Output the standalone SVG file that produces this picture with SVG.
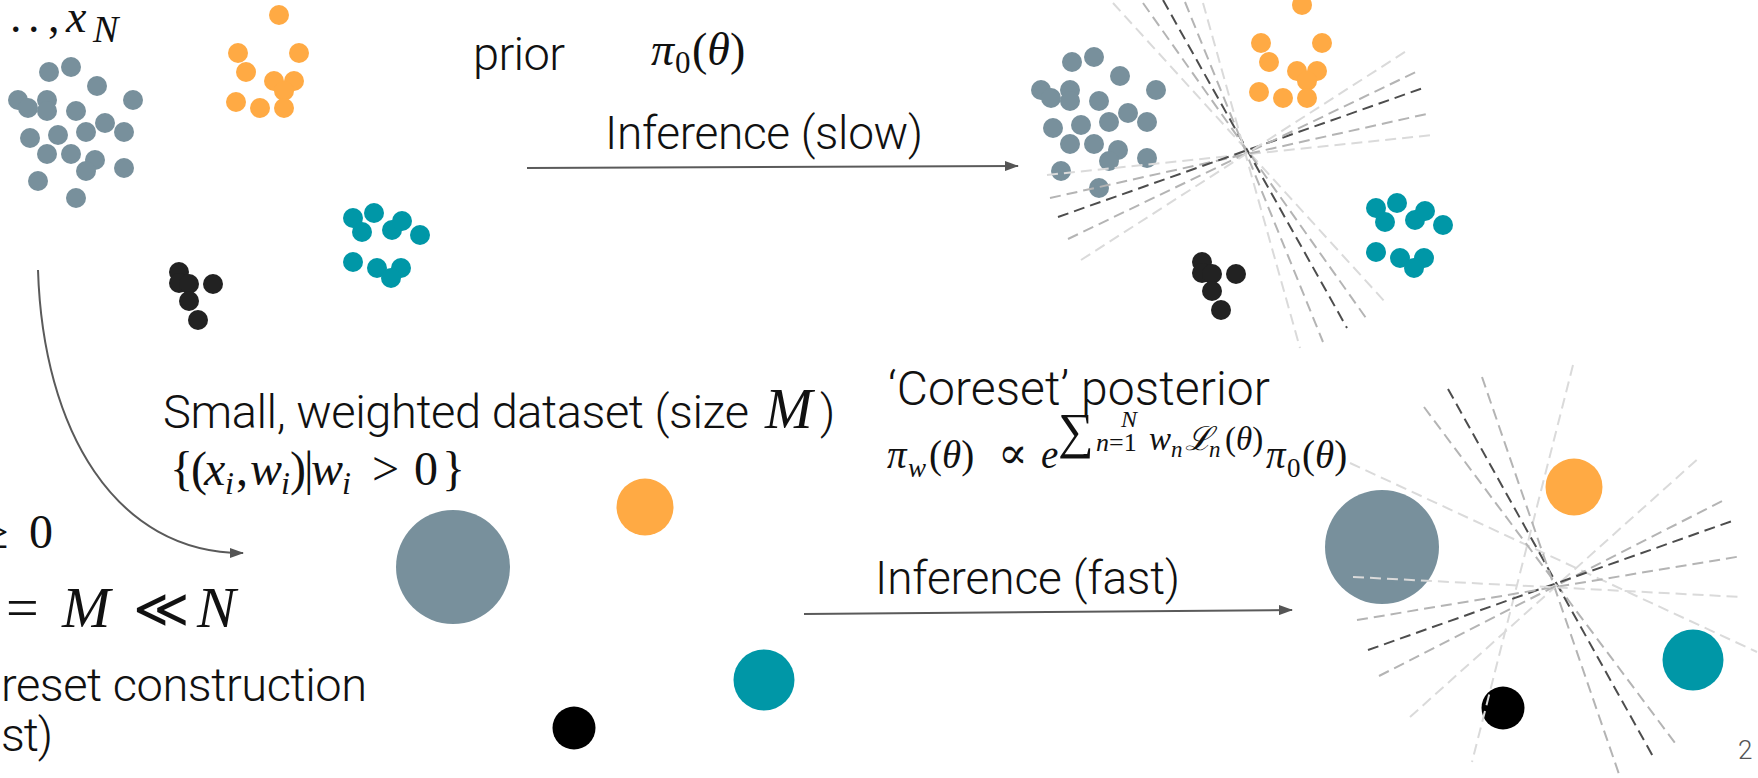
<svg xmlns="http://www.w3.org/2000/svg" xmlns:xlink="http://www.w3.org/1999/xlink" width="1758" height="778" viewBox="0 0 1758 778">
  <style>
    .sans { font-family: Roboto, "Liberation Sans", Arial, sans-serif; font-weight: 300; fill: #111; }
    .m { font-family: "Liberation Serif", "DejaVu Serif", serif; fill: #111; }
    .it { font-style: italic; }
    .g { fill: #78909c; }
    .o { fill: #ffaa44; }
    .t { fill: #0097a7; }
    .k { fill: #222; }
    .arrow { fill: none; stroke: #5a5a5a; stroke-width: 2; marker-end: url(#ah); }
    .d { fill: none; stroke-width: 2; stroke-dasharray: 11 6; }
    .l1 { stroke: #dadada; }
    .l2 { stroke: #b4b4b4; }
    .l3 { stroke: #4d4d4d; }
  </style>
  <defs>
    <marker id="ah" markerUnits="userSpaceOnUse" markerWidth="14" markerHeight="10" refX="13" refY="5" orient="auto">
      <path d="M0,0 L14,5 L0,10 z" fill="#555"/>
    </marker>
    <!-- full dataset: four clusters of points -->
    <g id="points">
      <g class="g">
        <circle cx="49" cy="72" r="10"/><circle cx="71" cy="67" r="10"/><circle cx="97" cy="86" r="10"/>
        <circle cx="18" cy="100" r="10"/><circle cx="28" cy="108" r="10"/><circle cx="47" cy="100" r="10"/>
        <circle cx="47" cy="111" r="10"/><circle cx="76" cy="111" r="10"/><circle cx="133" cy="100" r="10"/>
        <circle cx="105" cy="123" r="10"/><circle cx="30" cy="138" r="10"/><circle cx="58" cy="135" r="10"/>
        <circle cx="86" cy="132" r="10"/><circle cx="124" cy="132" r="10"/><circle cx="47" cy="154" r="10"/>
        <circle cx="71" cy="154" r="10"/><circle cx="95" cy="160" r="10"/><circle cx="86" cy="171" r="10"/>
        <circle cx="124" cy="168" r="10"/><circle cx="38" cy="181" r="10"/><circle cx="76" cy="198" r="10"/>
      </g>
      <g class="o">
        <circle cx="279" cy="15" r="10"/><circle cx="238" cy="53" r="10"/><circle cx="299" cy="53" r="10"/>
        <circle cx="246" cy="72" r="10"/><circle cx="274" cy="81" r="10"/><circle cx="294" cy="81" r="10"/>
        <circle cx="284" cy="91" r="10"/><circle cx="236" cy="102" r="10"/><circle cx="260" cy="108" r="10"/>
        <circle cx="284" cy="108" r="10"/>
      </g>
      <g class="t">
        <circle cx="353" cy="218" r="10"/><circle cx="374" cy="213" r="10"/><circle cx="362" cy="232" r="10"/>
        <circle cx="392" cy="230" r="10"/><circle cx="402" cy="221" r="10"/><circle cx="420" cy="235" r="10"/>
        <circle cx="353" cy="262" r="10"/><circle cx="377" cy="268" r="10"/><circle cx="401" cy="268" r="10"/>
        <circle cx="391" cy="278" r="10"/>
      </g>
      <g class="k">
        <circle cx="179" cy="272" r="10"/><circle cx="179" cy="283" r="10"/><circle cx="189" cy="284" r="10"/>
        <circle cx="213" cy="284" r="10"/><circle cx="189" cy="301" r="10"/><circle cx="198" cy="320" r="10"/>
      </g>
    </g>
    <!-- weighted coreset: one point per cluster, area by weight -->
    <g id="coreset">
      <circle class="g" cx="453" cy="567" r="57"/>
      <circle class="o" cx="645" cy="507" r="28.5"/>
      <circle class="t" cx="764" cy="680" r="30.5"/>
      <circle cx="574" cy="728" r="21.5" fill="#000"/>
    </g>
  </defs>

  <!-- full data -->
  <g id="data-full">
    <use xlink:href="#points"/>
    <text class="m" y="32" font-size="46"><tspan x="10">.</tspan><tspan x="28">.</tspan><tspan x="48">,</tspan><tspan class="it" x="66">x</tspan><tspan class="it" x="93" y="42" font-size="38">N</tspan></text>
  </g>

  <!-- prior -->
  <g id="prior">
    <text class="sans" x="473" y="70" font-size="47" textLength="92">prior</text>
    <text class="m" y="65" font-size="46"><tspan class="it" x="651">π</tspan><tspan x="675" y="73" font-size="31">0</tspan><tspan x="692" y="65">(</tspan><tspan class="it">θ</tspan><tspan>)</tspan></text>
  </g>

  <!-- exact posterior over full data -->
  <g id="posterior-full">
    <use xlink:href="#points" transform="translate(1023,-10)"/>
    <line class="d l1" x1="1113" y1="3" x2="1386" y2="303"/>
    <line class="d l2" x1="1143" y1="3" x2="1366" y2="318"/>
    <line class="d l3" x1="1163" y1="0" x2="1347" y2="328"/>
    <line class="d l2" x1="1185" y1="2" x2="1323" y2="342"/>
    <line class="d l1" x1="1203" y1="3" x2="1300" y2="348"/>
    <line class="d l1" x1="1047" y1="175" x2="1433" y2="135"/>
    <line class="d l2" x1="1050" y1="198" x2="1431" y2="113"/>
    <line class="d l3" x1="1058" y1="217" x2="1426" y2="87"/>
    <line class="d l2" x1="1068" y1="239" x2="1418" y2="71"/>
    <line class="d l1" x1="1081" y1="260" x2="1408" y2="50"/>
  </g>

  <!-- coreset -->
  <g id="coreset-data">
    <use xlink:href="#coreset"/>
    <text class="sans" x="163" y="428" font-size="47" textLength="586">Small, weighted dataset (size</text>
    <text class="m it" x="765" y="428" font-size="57">M</text>
    <text class="sans" x="820" y="428" font-size="47">)</text>
    <text class="m" y="485" font-size="48"><tspan x="170">{</tspan><tspan x="191">(</tspan><tspan class="it" x="204">x</tspan><tspan class="it" x="225" y="494" font-size="32">i</tspan><tspan x="236" y="485">,</tspan><tspan class="it" x="250">w</tspan><tspan class="it" x="281" y="494" font-size="32">i</tspan><tspan x="290" y="485">)</tspan><tspan x="304">|</tspan><tspan class="it" x="311">w</tspan><tspan class="it" x="342" y="494" font-size="32">i</tspan><tspan x="372" y="485">&gt;</tspan><tspan x="414">0</tspan><tspan x="442">}</tspan></text>
  </g>

  <!-- coreset posterior -->
  <g id="posterior-coreset">
    <use xlink:href="#coreset" transform="translate(929,-20)"/>
    <line class="d l1" x1="1350" y1="463" x2="1757" y2="652"/>
    <line class="d l1" x1="1573" y1="365" x2="1472" y2="762"/>
    <line class="d l2" x1="1424" y1="407" x2="1678" y2="747"/>
    <line class="d l3" x1="1448" y1="389" x2="1655" y2="760"/>
    <line class="d l2" x1="1482" y1="377" x2="1620" y2="777"/>
    <line class="d l1" x1="1410" y1="717" x2="1700" y2="457"/>
    <line class="d l2" x1="1379" y1="676" x2="1726" y2="499"/>
    <line class="d l3" x1="1368" y1="650" x2="1735" y2="520"/>
    <line class="d l2" x1="1357" y1="620" x2="1742" y2="556"/>
    <line class="d l1" x1="1353" y1="577" x2="1742" y2="597"/>
    <text class="sans" x="888" y="405" font-size="48" textLength="382">‘Coreset’ posterior</text>
    <text class="m" font-size="39"><tspan class="it" x="887" y="468">π</tspan><tspan class="it" x="908" y="477" font-size="27">w</tspan><tspan x="929" y="468">(</tspan><tspan class="it">θ</tspan><tspan>)</tspan><tspan x="998" y="468" font-size="44">∝</tspan><tspan class="it" x="1041" y="468">e</tspan><tspan x="1058" y="448" font-size="50">∑</tspan><tspan class="it" x="1121" y="427" font-size="24">N</tspan><tspan class="it" x="1096" y="451" font-size="26">n</tspan><tspan y="451" font-size="26">=1</tspan><tspan class="it" x="1149" y="450" font-size="33">w</tspan><tspan class="it" x="1171" y="457" font-size="23">n</tspan><tspan class="it" x="1185" y="450" font-size="33">ℒ</tspan><tspan class="it" x="1209" y="457" font-size="23">n</tspan><tspan x="1225" y="450" font-size="33">(</tspan><tspan class="it" font-size="33">θ</tspan><tspan font-size="33">)</tspan><tspan class="it" x="1266" y="468">π</tspan><tspan x="1287" y="477" font-size="27">0</tspan><tspan x="1302" y="468">(</tspan><tspan class="it">θ</tspan><tspan>)</tspan></text>
  </g>

  <!-- coreset construction conditions -->
  <g id="construction">
    <text class="m" y="548" font-size="48"><tspan x="-18">≥</tspan><tspan x="29">0</tspan></text>
    <text class="m" y="627" font-size="58"><tspan x="6">=</tspan><tspan class="it" x="62">M</tspan><tspan x="133" font-size="54">≪</tspan><tspan class="it" x="197">N</tspan></text>
    <text class="sans" x="1" y="701" font-size="47" textLength="366">reset construction</text>
    <text class="sans" x="1" y="751" font-size="47" textLength="52">st)</text>
  </g>

  <!-- connectors -->
  <g id="connectors">
    <path class="arrow" d="M38,270 C43,430 115,553 243,553"/>
    <line class="arrow" x1="527" y1="168" x2="1018" y2="166"/>
    <text class="sans" x="605" y="149" font-size="46" textLength="318">Inference (slow)</text>
    <line class="arrow" x1="804" y1="614" x2="1292" y2="610"/>
    <text class="sans" x="875" y="594" font-size="46" textLength="305">Inference (fast)</text>
  </g>

  <text class="sans" x="1738" y="759" font-size="26" style="fill:#555">2</text>
</svg>
